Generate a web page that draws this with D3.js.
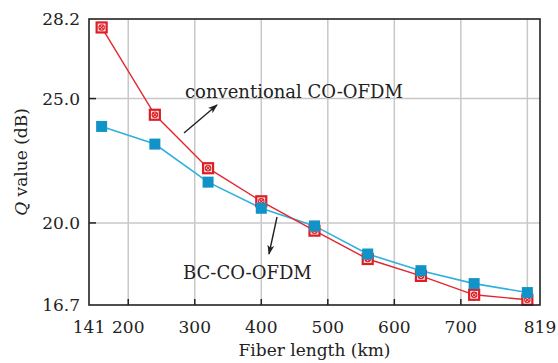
<!DOCTYPE html>
<html>
<head>
<meta charset="utf-8">
<script src="https://cdn.jsdelivr.net/npm/d3@7"></script>
<style>
  body { margin: 0; background: #fff; }
  text { font-family: 'DejaVu Serif', serif; fill: #222; }
</style>
</head>
<body>
<div id="chart"></div>
<script>
// fiber length (km) and Q value (dB)
const fiberLength = [160, 240, 320, 400, 480, 560, 640, 720, 800];
const qConventional = [27.86, 24.35, 22.2, 20.87, 19.69, 18.55, 17.87, 17.11, 16.91];
const qBC = [23.88, 23.17, 21.64, 20.59, 19.88, 18.75, 18.08, 17.56, 17.2];
const xTickLabels = [141, 200, 300, 400, 500, 600, 700, 819];
const xGrid = [200, 300, 400, 500, 600, 700, 800];
const yTickLabels = [16.7, 20.0, 25.0, 28.2];
const yGrid = [20, 25];

const width = 558, height = 363;
const margin = { top: 19, right: 18, bottom: 58, left: 89 };
const w = width - margin.left - margin.right,
  h = height - margin.top - margin.bottom;

const svg = d3.select('#chart').append('svg')
  .attr('width', width)
  .attr('height', height);

const g = svg.append('g')
  .attr('transform', 'translate(' + margin.left + ',' + margin.top + ')');

const x = d3.scaleLinear().domain([141, 819]).range([0, w]);
const y = d3.scaleLinear().domain([16.7, 28.2]).range([h, 0]);

// grid
g.selectAll('.vgrid').data(xGrid).enter().append('line')
  .attr('x1', d => x(d)).attr('x2', d => x(d))
  .attr('y1', 0).attr('y2', h)
  .style('stroke', '#c8c8c8').style('stroke-width', 1.5);
g.selectAll('.hgrid').data(yGrid).enter().append('line')
  .attr('x1', 0).attr('x2', w)
  .attr('y1', d => y(d)).attr('y2', d => y(d))
  .style('stroke', '#c8c8c8').style('stroke-width', 1.5);

// inner ticks
g.selectAll('.xtick').data(xGrid).enter().append('line')
  .attr('x1', d => x(d)).attr('x2', d => x(d))
  .attr('y1', h).attr('y2', h - 6)
  .style('stroke', '#222').style('stroke-width', 1.5);
g.selectAll('.ytick').data(yGrid).enter().append('line')
  .attr('x1', 0).attr('x2', 7)
  .attr('y1', d => y(d)).attr('y2', d => y(d))
  .style('stroke', '#222').style('stroke-width', 1.5);

// tick labels
g.selectAll('.xlab').data(xTickLabels).enter().append('text')
  .attr('x', d => x(d)).attr('y', h + 28)
  .attr('text-anchor', 'middle')
  .style('font-size', '17px')
  .text(d => d);
g.selectAll('.ylab').data(yTickLabels).enter().append('text')
  .attr('x', -9).attr('y', d => y(d)).attr('dy', '.36em')
  .attr('text-anchor', 'end')
  .style('font-size', '17px')
  .text(d => d.toFixed(1));

// axis titles
g.append('text')
  .attr('x', w / 2).attr('y', h + 51)
  .attr('text-anchor', 'middle')
  .style('font-size', '17px')
  .text('Fiber length (km)');

const yt = g.append('text')
  .attr('transform', 'translate(' + (-62) + ',' + (h / 2) + ') rotate(-90)')
  .attr('text-anchor', 'middle')
  .style('font-size', '17px');
yt.append('tspan').style('font-style', 'italic').text('Q');
yt.append('tspan').text(' value (dB)');

// lines
const line = d3.line().x((d, i) => x(fiberLength[i])).y(d => y(d));

g.append('path').datum(qBC)
  .attr('d', line)
  .style('fill', 'none').style('stroke', '#2fb0de').style('stroke-width', 1.6);

g.append('path').datum(qConventional)
  .attr('d', line)
  .style('fill', 'none').style('stroke', '#e3262d').style('stroke-width', 1.4);

// markers
const s = 10;
const red = g.selectAll('.red').data(qConventional).enter().append('g')
  .attr('transform', (d, i) => 'translate(' + x(fiberLength[i]) + ',' + y(d) + ')');
red.append('rect')
  .attr('x', -s / 2).attr('y', -s / 2).attr('width', s).attr('height', s)
  .style('fill', '#fbe3e3').style('stroke', '#dc1f26').style('stroke-width', 2.2);
red.append('circle').attr('r', 2.7)
  .style('fill', 'none').style('stroke', '#dc1f26').style('stroke-width', 1.1);
red.append('path').attr('d', 'M-2,-2L2,2M-2,2L2,-2')
  .style('stroke', '#dc1f26').style('stroke-width', 1.1);

const b = 11;
g.selectAll('.blue').data(qBC).enter().append('rect')
  .attr('x', (d, i) => x(fiberLength[i]) - b / 2)
  .attr('y', d => y(d) - b / 2)
  .attr('width', b).attr('height', b)
  .style('fill', '#1193c8');

// frame
g.append('rect')
  .attr('width', w).attr('height', h)
  .style('fill', 'none').style('stroke', '#222').style('stroke-width', 1.6);

// annotations
svg.append('defs').append('marker')
  .attr('id', 'arrow').attr('viewBox', '0 0 10 10')
  .attr('refX', 9).attr('refY', 5)
  .attr('markerWidth', 7).attr('markerHeight', 7)
  .attr('orient', 'auto')
  .append('path').attr('d', 'M0,1.5L10,5L0,8.5L2.5,5Z').style('fill', '#222');

svg.append('text')
  .attr('x', 185).attr('y', 98)
  .style('font-size', '18px')
  .text('conventional CO-OFDM');
svg.append('line')
  .attr('x1', 184).attr('y1', 133).attr('x2', 217).attr('y2', 105)
  .style('stroke', '#222').style('stroke-width', 1.4)
  .attr('marker-end', 'url(#arrow)');

svg.append('text')
  .attr('x', 183).attr('y', 279)
  .style('font-size', '18px')
  .text('BC-CO-OFDM');
svg.append('line')
  .attr('x1', 277).attr('y1', 217).attr('x2', 269).attr('y2', 254)
  .style('stroke', '#222').style('stroke-width', 1.4)
  .attr('marker-end', 'url(#arrow)');
</script>
</body>
</html>
